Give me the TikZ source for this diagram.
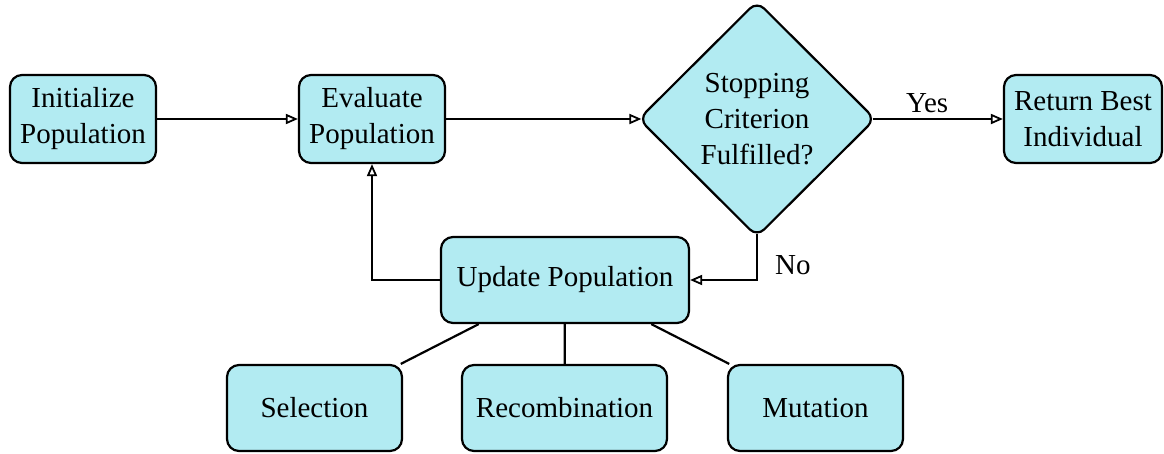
\documentclass[tikz,border=0pt]{standalone}
\usepackage{fontspec}
\setmainfont{Liberation Serif}
\usetikzlibrary{shapes.geometric,arrows.meta}
\definecolor{boxfill}{RGB}{178,235,242}
\tikzset{
  base/.style={draw=black, fill=boxfill, line width=2.2pt,
    font=\fontsize{29}{36}\selectfont, align=center, inner sep=0pt},
  stepbox/.style={base, rounded corners=12pt, minimum width=#1, minimum height=88pt},
  subbox/.style={base, rounded corners=12pt, minimum width=#1, minimum height=86pt},
  decision/.style={base, diamond, rounded corners=10pt, inner sep=-8pt,
    minimum width=237pt, minimum height=236pt},
  flow/.style={line width=2.2pt, -{Triangle[open, length=12pt, width=10pt, line width=1.8pt]}},
  link/.style={line width=2.2pt},
  lbl/.style={font=\fontsize{29}{36}\selectfont, inner sep=0pt}
}
\begin{document}
\begin{tikzpicture}[x=1pt, y=-1pt]
  \useasboundingbox (0,0) rectangle (1164,453);

  % main row
  \node[stepbox=146pt] (init) at (83,119) {Initialize\\Population};
  \node[stepbox=146pt] (eval) at (372,119) {Evaluate\\Population};
  \node[decision] (dec) at (757,119) {Stopping\\Criterion\\Fulfilled?};
  \node[stepbox=158pt] (ret) at (1083,119) {Return Best\\Individual};

  % update step and its operators
  \node[subbox=248pt] (upd) at (565,280) {Update Population};
  \node[subbox=175pt] (sel) at (314.5,408) {Selection};
  \node[subbox=205pt] (rec) at (564.5,408) {Recombination};
  \node[subbox=175pt] (mut) at (815.5,408) {Mutation};

  % flow
  \draw[flow] (init) -- (eval);
  \draw[flow, shorten >=-4pt] (eval) -- (dec.west);
  \draw[flow, shorten <=-4pt] (dec.east) -- node[lbl, above=5pt, pos=0.4] {Yes} (ret.west);
  \draw[flow, shorten <=-4pt] (dec.south) |- node[lbl, right=17pt, pos=0.32] {No} (upd.east);
  \draw[flow] (upd.west) -| (eval.south);

  % operators
  \draw[link] (upd) -- (sel);
  \draw[link] (upd) -- (rec);
  \draw[link] (upd) -- (mut);
\end{tikzpicture}
\end{document}
